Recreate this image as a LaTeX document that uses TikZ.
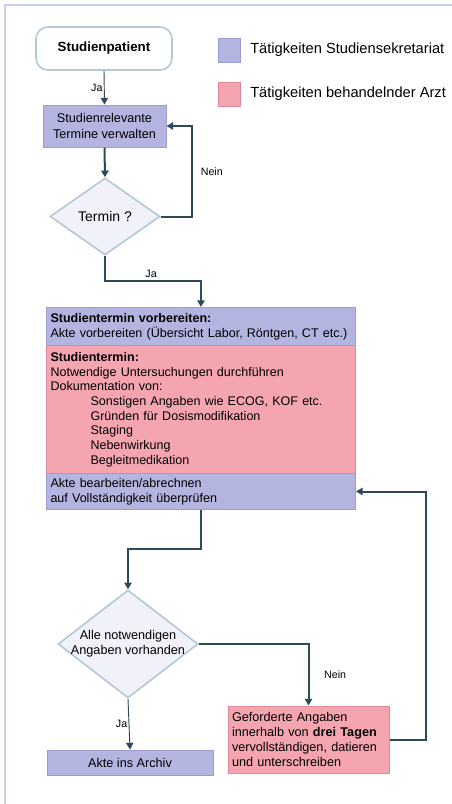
\documentclass[tikz,border=0pt]{standalone}
\usepackage{fontspec}
\setmainfont{Liberation Sans}
\usetikzlibrary{shapes.geometric,arrows.meta}
\definecolor{sek}{HTML}{B4B4E1}
\definecolor{sekdraw}{HTML}{9C9CD2}
\definecolor{arzt}{HTML}{F5A5AF}
\definecolor{arztdraw}{HTML}{DC8C98}
\definecolor{framecol}{HTML}{C8D0EE}
\definecolor{conncol}{HTML}{2E4A58}
\definecolor{dfill}{HTML}{F1F1FA}
\definecolor{ddraw}{HTML}{B4C8D6}
\begin{document}
\begin{tikzpicture}[x=0.75pt,y=-0.75pt,
  sekbox/.style={rectangle, draw=sekdraw, fill=sek, line width=0.75pt, inner sep=3pt},
  arztbox/.style={rectangle, draw=arztdraw, fill=arzt, line width=0.75pt, inner sep=3pt},
  diam/.style={diamond, draw=ddraw, fill=dfill, line width=1.2pt, inner sep=0pt},
  term/.style={rectangle, rounded corners=9pt, draw=ddraw, fill=white, line width=1.2pt},
  conn/.style={draw=conncol, line width=1.5pt, -{Triangle[length=5pt,width=5.5pt]}},
  thinconn/.style={draw=conncol, line width=0.7pt, -{Triangle[length=5pt,width=5.5pt]}},
  lbl/.style={font=\fontsize{8}{9}\selectfont, inner sep=1pt},
  boxfont/.style={font=\fontsize{9.4}{11}\selectfont},
]
\useasboundingbox (0,0) rectangle (452,804);
\fill[white] (0,0) rectangle (452,804);
\draw[framecol, line width=1.5pt] (5,804) -- (5,5) -- (452,5);

% legend
\node[sekbox, minimum width=22*0.75pt, minimum height=24*0.75pt, inner sep=0pt] (legs) at (229,50) {};
\node[arztbox, minimum width=22*0.75pt, minimum height=24*0.75pt, inner sep=0pt] (lega) at (229,94) {};
\node[anchor=west, font=\fontsize{11}{13}\selectfont, inner sep=0pt] (legst) at (250,50) {Tätigkeiten Studiensekretariat};
\node[anchor=west, font=\fontsize{11}{13}\selectfont, inner sep=0pt] (legat) at (250,94) {Tätigkeiten behandelnder Arzt};

% start
\node[term, minimum width=136*0.75pt, minimum height=43*0.75pt, font=\bfseries\fontsize{10}{12}\selectfont] (sp) at (104,48.5) {Studienpatient};

% termine verwalten
\node[sekbox, minimum width=123*0.75pt, minimum height=42*0.75pt, align=center, font=\fontsize{9.5}{12}\selectfont] (b1) at (104.5,126) {Studienrelevante\\Termine verwalten};

% diamond 1
\node[diam, minimum width=110*0.75pt, minimum height=77*0.75pt,
  label={[font=\fontsize{10.5}{12}\selectfont]center:Termin ?}] (d1) at (105,216.5) {};

% big box
\node[sekbox, anchor=north west, minimum width=309*0.75pt, minimum height=38*0.75pt,
  text width=309*0.75pt-6pt, align=left, boxfont] (prep) at (46,307)
  {\textbf{Studientermin vorbereiten:}\\Akte vorbereiten (Übersicht Labor, Röntgen, CT etc.)};
\node[arztbox, anchor=north west, minimum width=309*0.75pt, minimum height=128*0.75pt,
  text width=309*0.75pt-6pt, align=left, boxfont] (term) at (46,345)
  {\textbf{Studientermin:}\\
   Notwendige Untersuchungen durchführen\\
   Dokumentation von:\\
   \hspace*{30pt}Sonstigen Angaben wie ECOG, KOF etc.\\
   \hspace*{30pt}Gründen für Dosismodifikation\\
   \hspace*{30pt}Staging\\
   \hspace*{30pt}Nebenwirkung\\
   \hspace*{30pt}Begleitmedikation};
\node[sekbox, anchor=north west, minimum width=309*0.75pt, minimum height=36*0.75pt,
  text width=309*0.75pt-6pt, align=left, boxfont] (acct) at (46,473)
  {Akte bearbeiten/abrechnen\\auf Vollständigkeit überprüfen};

% diamond 2
\node[diam, minimum width=140*0.75pt, minimum height=108*0.75pt,
  label={[font=\fontsize{9.5}{11.5}\selectfont, align=center]center:Alle notwendigen\\Angaben vorhanden}] (d2) at (128,644) {};

% geforderte angaben
\node[arztbox, minimum width=161*0.75pt, minimum height=67*0.75pt,
  text width=161*0.75pt-6pt, align=left, font=\fontsize{9.5}{11.25}\selectfont] (ger) at (308.5,739.5)
  {Geforderte Angaben\\innerhalb von \textbf{drei Tagen}\\vervollständigen, datieren\\und unterschreiben};

% archiv
\node[sekbox, minimum width=166*0.75pt, minimum height=25*0.75pt, font=\fontsize{9.5}{11}\selectfont] (arch) at (130,762.5) {Akte ins Archiv};

% connectors
\draw[thinconn] (sp.south) -- node[lbl, left, pos=0.5] {Ja} (b1.north);
\draw[conn] (b1.south) -- (d1.north);
\draw[conn] (d1.east) -- ++(31,0) |- node[lbl, pos=0.25, right=5pt] {Nein} (b1.east);
\draw[conn] (d1.south) -- ++(0,25) -| node[lbl, pos=0.24, above=1pt] {Ja} (prep.north);
\draw[conn] (acct.south) -- ++(0,39) -| (d2.north);
\draw[conn] (d2.east) -| node[lbl, pos=0.75, right=10pt] {Nein} (ger.north);
\draw[conn] (ger.east) -- ++(36,0) |- (acct.east);
\draw[thinconn] (d2.south) -- node[lbl, left, pos=0.5] {Ja} (arch.north);
\end{tikzpicture}
\end{document}
